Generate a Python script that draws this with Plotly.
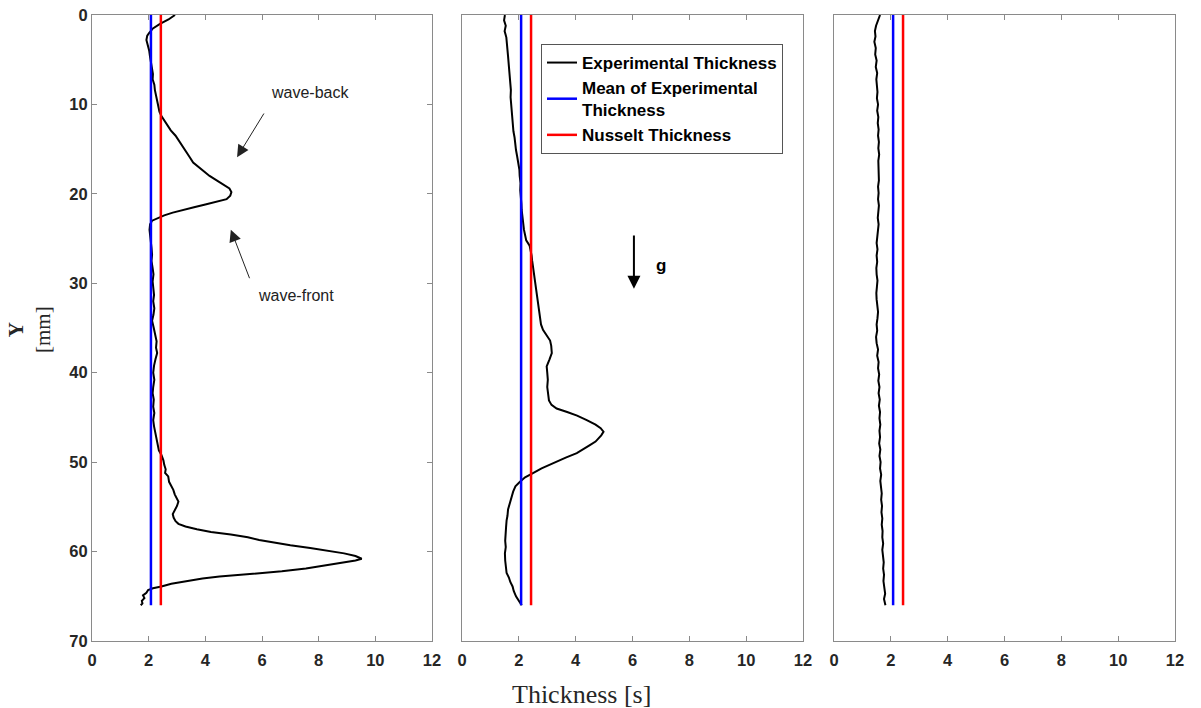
import plotly.graph_objects as go

# ---------------- data ----------------
# Panel 1 (left) experimental thickness profile
p1_y = [0.0, 0.5, 1.0, 1.5, 2.0, 2.3, 2.8, 3.3, 4.0, 4.7, 5.3, 6.0, 6.6, 7.2, 7.8, 8.4, 9.0, 9.6, 10.2, 10.8,
        11.3, 11.9, 12.4, 12.9, 13.5, 14.1, 14.7, 15.3, 15.9, 16.5, 17.0, 17.5, 18.0, 18.5, 19.0, 19.4, 19.8,
        20.2, 20.6, 20.9, 21.2, 21.5, 21.8, 22.1, 22.4, 22.7, 23.0, 23.4, 24.0, 24.6, 25.2, 26.0, 26.8, 27.5,
        28.3, 29.0, 29.8, 30.5, 31.3, 32.0, 32.8, 33.5, 34.2, 35.0, 35.8, 36.5, 37.2, 37.8, 38.5, 39.2, 40.0,
        40.8, 41.6, 42.3, 43.0, 43.8, 44.5, 45.3, 46.0, 46.8, 47.5, 48.2, 48.7, 49.2, 49.8, 50.3, 50.8, 51.2,
        51.6, 52.2, 52.7, 53.1, 53.6, 54.0, 54.4, 54.9, 55.4, 55.8, 56.2, 56.6, 56.9, 57.2, 57.5, 57.8, 58.1,
        58.4, 58.7, 59.0, 59.3, 59.6, 59.9, 60.2, 60.5, 60.8, 61.0, 61.3, 61.6, 61.9, 62.2, 62.4, 62.6, 62.8,
        63.0, 63.3, 63.6, 63.9, 64.1, 64.3, 64.6, 64.9, 65.2, 65.5, 65.8, 66.0]
p1_x = [2.93, 2.7, 2.4, 2.15, 2.02, 1.95, 1.92, 1.97, 2.02, 2.05, 2.08, 2.12, 2.15, 2.14, 2.2, 2.22, 2.26, 2.3,
        2.33, 2.38, 2.45, 2.58, 2.68, 2.78, 2.95, 3.08, 3.22, 3.35, 3.45, 3.57, 3.75, 3.95, 4.15, 4.4, 4.65,
        4.85, 4.92, 4.88, 4.75, 4.4, 4.0, 3.6, 3.2, 2.85, 2.55, 2.3, 2.12, 2.05, 2.03, 2.05, 2.08, 2.1, 2.12,
        2.1, 2.14, 2.17, 2.14, 2.16, 2.19, 2.16, 2.2, 2.17, 2.12, 2.18, 2.24, 2.28, 2.26, 2.3, 2.24, 2.19,
        2.16, 2.2, 2.16, 2.14, 2.18, 2.16, 2.2, 2.16, 2.19, 2.24, 2.28, 2.32, 2.36, 2.45, 2.52, 2.55, 2.6,
        2.58, 2.69, 2.72, 2.8, 2.87, 2.92, 3.0, 3.05, 3.0, 2.9, 2.85, 2.88, 2.95, 3.05, 3.3, 3.7, 4.2, 4.9,
        5.5, 5.9, 6.4, 7.0, 7.7, 8.3, 8.9, 9.3, 9.52, 9.3, 8.75, 8.1, 7.55, 6.7, 5.9, 5.2, 4.5, 3.9, 3.3,
        2.8, 2.45, 2.15, 1.98, 1.92, 1.8, 1.85, 1.76, 1.78, 1.72]

# Panel 2 (middle)
p2_y = [0.0, 0.6, 1.2, 1.8, 2.5, 3.2, 3.9, 4.6, 5.3, 6.0, 6.9, 7.6, 8.4, 9.2, 10.0, 10.6, 11.4, 12.2, 13.0,
        13.7, 14.4, 15.1, 15.8, 16.5, 17.3, 18.0, 18.8, 19.6, 20.4, 21.1, 21.8, 22.5, 23.2, 24.0, 24.6, 25.2,
        25.8, 26.3, 26.9, 27.5, 28.2, 28.9, 29.5, 30.0, 30.6, 31.2, 31.9, 32.6, 33.3, 34.0, 34.6, 35.2, 35.8,
        36.4, 37.0, 37.8, 38.5, 39.3, 40.0, 40.8, 41.6, 42.3, 43.1, 43.6, 44.0, 44.4, 44.8, 45.3, 45.8, 46.2,
        46.6, 47.0, 47.4, 47.7, 48.1, 48.5, 49.0, 49.5, 50.1, 50.7, 51.3, 51.7, 52.2, 52.7, 53.3, 53.9, 54.6,
        55.3, 56.0, 56.5, 57.3, 58.0, 58.8, 59.5, 60.2, 61.0, 61.7, 62.4, 62.9, 63.4, 63.9, 64.4, 65.0, 65.5,
        66.0]
p2_x = [1.51, 1.48, 1.54, 1.5, 1.56, 1.57, 1.6, 1.62, 1.64, 1.66, 1.69, 1.7, 1.72, 1.71, 1.73, 1.75, 1.77,
        1.79, 1.81, 1.85, 1.87, 1.9, 1.94, 1.98, 2.02, 2.03, 2.06, 2.05, 2.08, 2.09, 2.1, 2.12, 2.15, 2.18,
        2.22, 2.26, 2.38, 2.42, 2.45, 2.47, 2.5, 2.52, 2.55, 2.57, 2.6, 2.62, 2.65, 2.68, 2.72, 2.74, 2.78,
        2.85, 2.98, 3.1, 3.14, 3.16, 3.08, 2.98, 3.0, 3.02, 3.0, 3.04, 3.06, 3.15, 3.33, 3.7, 4.05, 4.39, 4.7,
        4.88, 4.98, 4.9, 4.8, 4.7, 4.5, 4.3, 4.04, 3.65, 3.21, 2.8, 2.45, 2.22, 2.04, 1.88, 1.8, 1.75, 1.7,
        1.62, 1.6, 1.57, 1.55, 1.53, 1.52, 1.54, 1.51, 1.52, 1.55, 1.57, 1.65, 1.7, 1.78, 1.82, 1.9, 2.0, 2.1]

# Panel 3 (right)
p3_y = [0.0, 0.6, 1.2, 1.8, 2.4, 3.0, 3.7, 4.4, 5.1, 5.8, 6.5, 7.2, 7.9, 8.6, 9.3, 10.0, 10.7, 11.4, 12.1,
        12.8, 13.5, 14.2, 14.9, 15.6, 16.3, 17.0, 17.8, 18.5, 19.2, 19.9, 20.6, 21.3, 22.0, 22.7, 23.4, 24.1,
        24.8, 25.5, 26.2, 26.9, 27.6, 28.3, 29.0, 29.7, 30.4, 31.1, 31.8, 32.5, 33.2, 33.9, 34.6, 35.3, 36.0,
        36.7, 37.4, 38.1, 38.8, 39.5, 40.2, 40.9, 41.6, 42.3, 43.0, 43.7, 44.4, 45.1, 45.8, 46.5, 47.2, 47.9,
        48.6, 49.3, 50.0, 50.7, 51.4, 52.1, 52.8, 53.5, 54.2, 54.9, 55.6, 56.3, 57.0, 57.7, 58.4, 59.1, 59.8,
        60.5, 61.2, 61.9, 62.6, 63.3, 64.0, 64.7, 65.3, 66.0]
p3_x = [1.62, 1.55, 1.48, 1.44, 1.46, 1.42, 1.47, 1.45, 1.5, 1.47, 1.52, 1.49, 1.5, 1.53, 1.51, 1.55, 1.52,
        1.56, 1.54, 1.57, 1.55, 1.58, 1.56, 1.59, 1.56, 1.57, 1.56, 1.58, 1.55, 1.57, 1.55, 1.58, 1.56, 1.54,
        1.57, 1.55, 1.52, 1.5, 1.53, 1.5, 1.52, 1.49, 1.5, 1.53, 1.51, 1.49, 1.5, 1.52, 1.55, 1.53, 1.5, 1.52,
        1.48, 1.5, 1.55, 1.52, 1.57, 1.55, 1.59, 1.56, 1.6, 1.57, 1.61, 1.58, 1.62, 1.6, 1.63, 1.6, 1.62, 1.59,
        1.63, 1.6, 1.64, 1.62, 1.66, 1.63, 1.65, 1.68, 1.66, 1.69, 1.67, 1.7, 1.68, 1.71, 1.7, 1.73, 1.7, 1.72,
        1.75, 1.73, 1.76, 1.74, 1.78, 1.8, 1.76, 1.81]

mean_thickness = 2.08
nusselt_thickness = 2.43
ref_line_y = [0, 66]

x_ticks = [0, 2, 4, 6, 8, 10, 12]
y_ticks = [0, 10, 20, 30, 40, 50, 60, 70]

profiles = [(p1_x, p1_y), (p2_x, p2_y), (p3_x, p3_y)]

# ---------------- figure ----------------
W, H = 1201, 708
ML, MR, MT, MB = 92, 26, 15, 67
PW = W - ML - MR
dom_x = [(0.0, 340 / PW), (370 / PW, 711 / PW), (742 / PW, 1.0)]
dom_y = (0.0, 1.0)


def px_to_paper_x(p):
    return (p - ML) / PW


def px_to_paper_y(p):
    return 1 - (p - MT) / (H - MT - MB)


fig = go.Figure()
axis_col = "#8a8a8a"
tick_font = dict(family="Liberation Sans, Arial", size=16.5, color="#262626", weight="bold")

for i, (px, py) in enumerate(profiles):
    k = "" if i == 0 else str(i + 1)
    xa, ya = "x" + k, "y" + k
    show = (i == 0)
    fig.add_trace(go.Scatter(x=px, y=py, mode="lines", xaxis=xa, yaxis=ya,
                             line=dict(color="black", width=2), name="Experimental Thickness",
                             legendgroup="exp", showlegend=show))
    fig.add_trace(go.Scatter(x=[mean_thickness] * 2, y=ref_line_y, mode="lines", xaxis=xa, yaxis=ya,
                             line=dict(color="#0000ff", width=2.5), name="Mean of Experimental<br>Thickness",
                             legendgroup="mean", showlegend=show))
    fig.add_trace(go.Scatter(x=[nusselt_thickness] * 2, y=ref_line_y, mode="lines", xaxis=xa, yaxis=ya,
                             line=dict(color="#ff0000", width=2.5), name="Nusselt Thickness",
                             legendgroup="nus", showlegend=show))

    fig.update_layout(**{
        ("xaxis" + k): dict(domain=list(dom_x[i]), range=[0, 12], tickvals=x_ticks, ticks="inside",
                            ticklen=5, tickcolor=axis_col, showline=True, linecolor=axis_col, linewidth=1,
                            mirror="ticks", showgrid=False, zeroline=False, tickfont=tick_font,
                            ticklabelstandoff=4,
                            anchor=ya, fixedrange=True, automargin=False),
        ("yaxis" + k): dict(domain=list(dom_y), range=[70, 0], tickvals=y_ticks,
                            ticks="inside" if i == 0 else "", ticklen=5, tickcolor=axis_col,
                            showticklabels=(i == 0), showline=True, linecolor=axis_col, linewidth=1,
                            mirror="ticks" if i == 0 else True, showgrid=False, zeroline=False,
                            tickfont=tick_font, anchor=xa, fixedrange=True, automargin=False),
    })

annotations = [
    dict(text="wave-back", x=7.7, y=8.7, xref="x", yref="y", showarrow=False,
         font=dict(family="Liberation Sans, Arial", size=16, color="#222")),
    dict(text="", x=5.12, y=15.9, ax=6.1, ay=10.85, xref="x", yref="y", axref="x", ayref="y",
         showarrow=True, arrowhead=2, arrowsize=2.4, arrowwidth=1, arrowcolor="#222"),
    dict(text="wave-front", x=7.2, y=31.4, xref="x", yref="y", showarrow=False,
         font=dict(family="Liberation Sans, Arial", size=16, color="#222")),
    dict(text="", x=4.9, y=24.0, ax=5.58, ay=29.6, xref="x", yref="y", axref="x", ayref="y",
         showarrow=True, arrowhead=2, arrowsize=2.4, arrowwidth=1, arrowcolor="#222"),
    dict(text="", x=6.05, y=30.6, ax=6.05, ay=24.5, xref="x2", yref="y2", axref="x2", ayref="y2",
         showarrow=True, arrowhead=2, arrowsize=1.3, arrowwidth=2, arrowcolor="black"),
    dict(text="<b>g</b>", x=7.0, y=28.0, xref="x2", yref="y2", showarrow=False,
         font=dict(family="Liberation Sans, Arial", size=17, color="black")),
    dict(text="Thickness [s]", x=px_to_paper_x(581), y=px_to_paper_y(695), xref="paper", yref="paper",
         xanchor="center", yanchor="middle",
         showarrow=False, font=dict(family="Liberation Serif, Times New Roman", size=26, color="#262626")),
    dict(text="<b>Y</b><br>[mm]", x=px_to_paper_x(29), y=px_to_paper_y(330), xref="paper", yref="paper",
         xanchor="center", yanchor="middle",
         showarrow=False, textangle=-90,
         font=dict(family="Liberation Serif, Times New Roman", size=21, color="#262626")),
]

fig.update_layout(
    width=W, height=H,
    margin=dict(l=ML, r=MR, t=MT, b=MB, autoexpand=False),
    paper_bgcolor="white", plot_bgcolor="white",
    showlegend=True,
    legend=dict(x=px_to_paper_x(541), y=px_to_paper_y(44), xanchor="left", yanchor="top",
                bgcolor="white", bordercolor="#555", borderwidth=1,
                font=dict(family="Liberation Sans, Arial", size=17, color="black", weight="bold"),
                tracegroupgap=0, itemwidth=30),
    annotations=annotations,
)

fig.write_html("out.html")
